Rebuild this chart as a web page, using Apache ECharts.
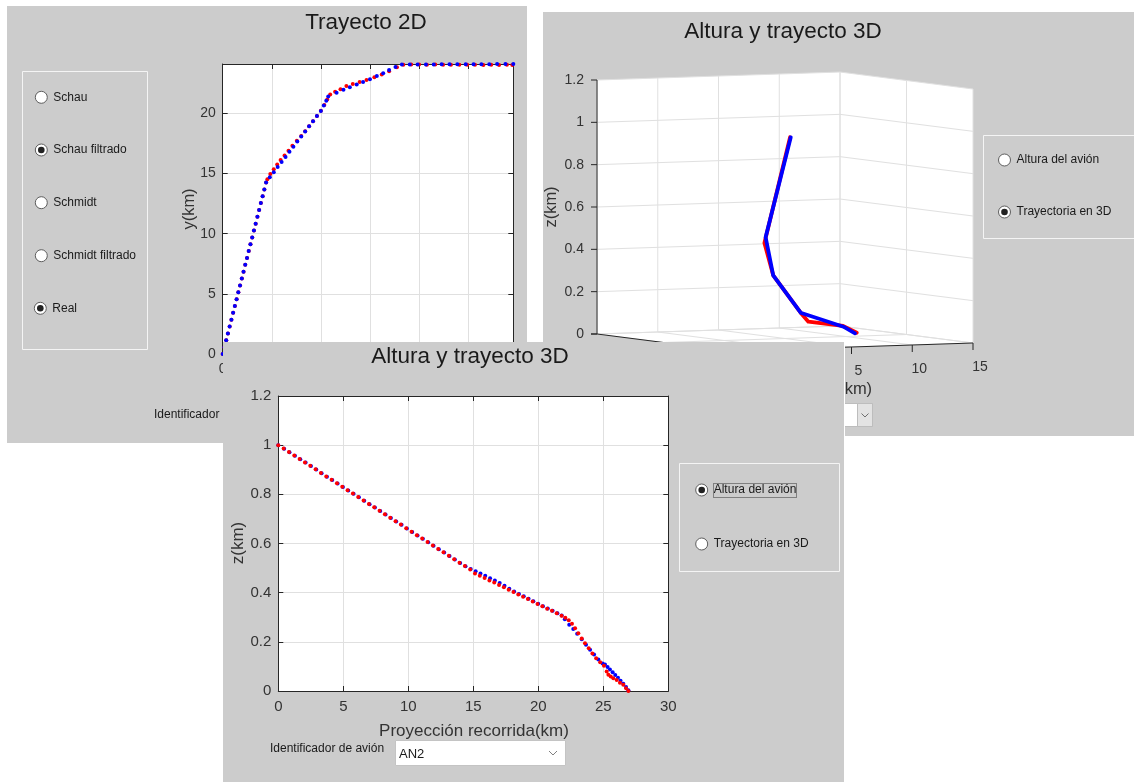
<!DOCTYPE html>
<html>
<head>
<meta charset="utf-8">
<script src="https://cdn.jsdelivr.net/npm/echarts/dist/echarts.min.js"></script>
<style>
  html, body { margin: 0; padding: 0; background: #ffffff; width: 1134px; height: 782px; overflow: hidden; }
  .win { position: absolute; }
  #w2d  { left: 7px;   top: 6px;   width: 520px; height: 437px; z-index: 1; }
  #w3d  { left: 543px; top: 12px;  width: 591px; height: 424px; z-index: 1; }
  #walt { left: 223px; top: 342px; width: 622px; height: 440px; z-index: 2; }
</style>
</head>
<body>
<div id="w2d" class="win"></div>
<div id="w3d" class="win"></div>
<div id="walt" class="win"></div>
<script>
// ---------- Trayecto 2D: x, y (km) ----------
const trajRealX = [0.000, 0.036, 0.072, 0.107, 0.142, 0.178, 0.213, 0.248, 0.284, 0.319, 0.354, 0.390, 0.425, 0.460, 0.496, 0.531, 0.566, 0.602, 0.637, 0.672, 0.708, 0.743, 0.778, 0.814, 0.849, 0.885,
  0.91, 0.97, 1.04, 1.11, 1.18, 1.26, 1.34, 1.42, 1.51, 1.60, 1.68, 1.76, 1.84, 1.92, 2.00, 2.07, 2.13, 2.19,
  2.29, 2.40, 2.52, 2.65, 2.79, 2.93, 3.09, 3.24, 3.39, 3.55, 3.68,
  3.84, 4.00, 4.16, 4.33, 4.49, 4.65, 4.82, 4.98, 5.14, 5.31, 5.47, 5.63, 5.79, 5.90];
const trajRealY = [0.00, 0.57, 1.14, 1.71, 2.28, 2.85, 3.42, 3.99, 4.56, 5.13, 5.70, 6.27, 6.84, 7.41, 7.98, 8.55, 9.12, 9.69, 10.26, 10.83, 11.40, 11.97, 12.54, 13.11, 13.68, 14.25,
  14.52, 14.95, 15.35, 15.75, 16.12, 16.50, 16.90, 17.30, 17.72, 18.12, 18.52, 18.93, 19.35, 19.78, 20.22, 20.70, 21.15, 21.56,
  21.80, 22.00, 22.28, 22.44, 22.61, 22.78, 23.00, 23.22, 23.50, 23.83, 24.03,
  24.05, 24.05, 24.04, 24.05, 24.04, 24.04, 24.03, 24.04, 24.03, 24.02, 24.03, 24.02, 24.03, 24.02];
const trajEstX = [0.000, 0.035, 0.071, 0.106, 0.141, 0.177, 0.212, 0.247, 0.283, 0.318, 0.353, 0.389, 0.424, 0.459, 0.495, 0.530, 0.565, 0.601, 0.636, 0.671, 0.707, 0.742, 0.777, 0.813, 0.848, 0.884,
  0.96, 1.04, 1.12, 1.20, 1.28, 1.36, 1.44, 1.52, 1.60, 1.68, 1.76, 1.84, 1.92, 2.00,
  2.06, 2.11, 2.15,
  2.32, 2.46, 2.59, 2.73, 2.86, 3.00, 3.14, 3.27, 3.39, 3.52, 3.65,
  3.81, 3.97, 4.14, 4.30, 4.46, 4.62, 4.78, 4.95, 5.11, 5.27, 5.43, 5.59, 5.76, 5.92];
const trajEstY = [0.00, 0.57, 1.14, 1.71, 2.28, 2.85, 3.42, 3.99, 4.56, 5.13, 5.70, 6.27, 6.84, 7.41, 7.98, 8.55, 9.12, 9.69, 10.26, 10.83, 11.40, 11.97, 12.54, 13.11, 13.68, 14.25,
  14.68, 15.10, 15.53, 15.95, 16.38, 16.80, 17.23, 17.65, 18.08, 18.50, 18.93, 19.35, 19.78, 20.20,
  20.65, 21.05, 21.39,
  21.72, 21.95, 22.17, 22.39, 22.61, 22.83, 23.11, 23.33, 23.61, 23.86, 24.05,
  24.05, 24.06, 24.06, 24.06, 24.07, 24.07, 24.07, 24.07, 24.07, 24.08, 24.08, 24.09, 24.09, 24.10];

// ---------- Altura del avión: proyección recorrida (km), z (km) ----------
const altRealDist = [0.00, 0.41, 0.82, 1.23, 1.64, 2.05, 2.46, 2.87, 3.28, 3.69, 4.10, 4.51, 4.92, 5.33, 5.74, 6.15, 6.56, 6.97, 7.38, 7.79, 8.20, 8.61, 9.02, 9.43, 9.84, 10.25, 10.66, 11.07, 11.48, 11.89, 12.30, 12.71, 13.12, 13.53, 13.94, 14.35, 14.76,
  15.13, 15.50, 15.87, 16.24, 16.61, 16.98, 17.35, 17.72, 18.09, 18.46, 18.83, 19.20, 19.57, 19.94, 20.31, 20.68, 21.05, 21.42, 21.79,
  22.08, 22.34, 22.59, 22.83, 23.08, 23.34, 23.59, 23.88, 24.16, 24.45, 24.76, 25.05,
  25.26, 25.39, 25.57, 25.77, 26.03, 26.28, 26.54, 26.75, 26.93];
const altRealZ = [1.000, 0.986, 0.972, 0.958, 0.944, 0.930, 0.916, 0.902, 0.887, 0.873, 0.859, 0.845, 0.831, 0.817, 0.803, 0.789, 0.775, 0.761, 0.747, 0.733, 0.719, 0.705, 0.691, 0.677, 0.662, 0.648, 0.634, 0.620, 0.606, 0.592, 0.578, 0.564, 0.550, 0.536, 0.522, 0.508, 0.494,
  0.478, 0.469, 0.460, 0.450, 0.441, 0.431, 0.422, 0.412, 0.403, 0.393, 0.383, 0.374, 0.364, 0.354, 0.345, 0.335, 0.326, 0.316, 0.306,
  0.298, 0.288, 0.274, 0.255, 0.235, 0.214, 0.194, 0.174, 0.153, 0.133, 0.117, 0.103,
  0.079, 0.066, 0.059, 0.052, 0.045, 0.034, 0.025, 0.011, 0.000];
const altEstDist = [0.00, 0.45, 0.86, 1.28, 1.69, 2.10, 2.51, 2.92, 3.33, 3.74, 4.15, 4.56, 4.97, 5.38, 5.79, 6.20, 6.61, 7.02, 7.43, 7.84, 8.25, 8.66, 9.07, 9.48, 9.89, 10.30, 10.71, 11.12, 11.53, 11.94, 12.35, 12.76, 13.17, 13.58, 13.99, 14.40, 14.80,
  15.18, 15.55, 15.92, 16.29, 16.66, 17.03, 17.40, 17.77, 18.14, 18.51, 18.88, 19.25, 19.62, 19.99, 20.36, 20.73, 21.10, 21.47, 21.80,
  22.04, 22.38, 22.69, 22.99, 23.34, 23.67, 23.98, 24.29, 24.62, 24.95,
  25.13, 25.33, 25.51, 25.72, 25.92, 26.13, 26.33, 26.54, 26.75, 26.93];
const altEstZ = [1.000, 0.985, 0.971, 0.957, 0.943, 0.929, 0.915, 0.901, 0.886, 0.872, 0.858, 0.844, 0.830, 0.816, 0.802, 0.788, 0.774, 0.760, 0.746, 0.732, 0.718, 0.704, 0.690, 0.676, 0.661, 0.647, 0.633, 0.619, 0.605, 0.591, 0.577, 0.563, 0.549, 0.535, 0.521, 0.507, 0.496,
  0.487, 0.478, 0.469, 0.459, 0.449, 0.439, 0.428, 0.416, 0.405, 0.395, 0.385, 0.375, 0.365, 0.355, 0.345, 0.336, 0.326, 0.316, 0.307,
  0.292, 0.269, 0.252, 0.233, 0.211, 0.188, 0.168, 0.148, 0.128, 0.112,
  0.108, 0.098, 0.087, 0.076, 0.065, 0.054, 0.042, 0.030, 0.016, 0.003];

// ---------- Trayectoria en 3D: x, y, z (km) ----------
const t3RealX = [0, 1.61, 2.99, 7.3, 8.62, 11.42, 12.66];
const t3RealY = [0.2, 13.8, 16.2, 23.7, 26.2, 26.0, 26.4];
const t3RealZ = [1.0, 0.47, 0.31, 0.11, 0.06, 0.035, 0];
const t3EstX = [0, 2.45, 2.99, 7.3, 11.07, 12.24];
const t3EstY = [0, 16.5, 16.2, 23.7, 24.6, 25.4];
const t3EstZ = [1.0, 0.49, 0.31, 0.11, 0.035, 0];

// ---------- tick values of the 3D box ----------
const ticks3dX = [-5, 0, 5, 10, 15];
const ticks3dY = [0, 20, 40];
const ticks3dZ = [0, 0.2, 0.4, 0.6, 0.8, 1, 1.2];

// ---------- shared styling ----------
const WIN = '#cccccc';
const AXIS = '#262626';
const GRIDC = '#e0e0e0';
const LABEL = '#333333';
const UI_TEXT = '#1a1a1a';
const FONT = '"Liberation Sans", Arial, Helvetica, sans-serif';
const RED = '#ff0000';
const BLUE = '#0000ff';

const pairs = (xs, ys) => xs.map((x, i) => [x, ys[i]]);

function txt(x, y, text, size, o) {
  o = o || {};
  const align = o.align || 'left', valign = o.valign || 'middle';
  return {
    type: 'text', x: x, y: y, rotation: o.rotation || 0, z: 20, silent: true,
    style: {
      text: text, font: 'normal ' + size + 'px ' + FONT, fill: o.color || UI_TEXT,
      align: align, verticalAlign: valign, textAlign: align, textVerticalAlign: valign
    }
  };
}
function radio(cx, cy, label, checked) {
  const els = [{ type: 'circle', z: 20, silent: true, shape: { cx: cx, cy: cy, r: 6 }, style: { fill: '#ffffff', stroke: '#5e5e5e', lineWidth: 1 } }];
  if (checked) els.push({ type: 'circle', z: 21, silent: true, shape: { cx: cx, cy: cy, r: 3.3 }, style: { fill: '#222222' } });
  els.push(txt(cx + 12, cy, label, 12));
  return els;
}
function panel(x, y, w, h) {
  return { type: 'rect', z: 19, silent: true, shape: { x: x, y: y, width: w, height: h }, style: { fill: 'none', stroke: '#f4f4f4', lineWidth: 1 } };
}
function boxedAxes(xr, yr, fs, showMax) {
  const mk = (pos, r, labels, split, margin) => ({
    type: 'value', position: pos, min: r[0], max: r[1], interval: r[2],
    axisLine: { show: true, onZero: false, lineStyle: { color: AXIS, width: 1 } },
    axisTick: { show: true, inside: true, length: 5, lineStyle: { color: AXIS, width: 1 } },
    axisLabel: { show: labels, color: LABEL, fontSize: fs, fontFamily: FONT, margin: margin, showMaxLabel: showMax, showMinLabel: true, hideOverlap: false },
    splitLine: { show: split, lineStyle: { color: GRIDC, width: 1 } }
  });
  return {
    xAxis: [mk('bottom', xr, true, true, 8), mk('top', xr, false, false, 8)],
    yAxis: [mk('left', yr, true, true, 7), mk('right', yr, false, false, 7)]
  };
}
function dots(data, color, z) {
  return { type: 'scatter', data: data, symbol: 'circle', symbolSize: 4, xAxisIndex: 0, yAxisIndex: 0,
           itemStyle: { color: color, opacity: 1 }, silent: true, z: z, clip: false, animation: false };
}

// ---------- Ventana: Trayecto 2D ----------
const ax2d = boxedAxes([0, 5.92, 1], [0, 24.1, 5], 14, false);
const chart2d = echarts.init(document.getElementById('w2d'), null, { renderer: 'canvas' });
chart2d.setOption({
  backgroundColor: WIN,
  animation: false,
  grid: { left: 215.7, top: 58, width: 290.6, height: 290, show: true, backgroundColor: '#ffffff', borderWidth: 0, outerBoundsMode: 'none' },
  xAxis: ax2d.xAxis,
  yAxis: ax2d.yAxis,
  series: [dots(pairs(trajRealX, trajRealY), RED, 2), dots(pairs(trajEstX, trajEstY), BLUE, 3)],
  graphic: { elements: [
    txt(359, 17, 'Trayecto 2D', 22.5, { align: 'center' }),
    txt(182, 203, 'y(km)', 16.5, { align: 'center', rotation: Math.PI / 2, color: '#333' }),
    panel(15.5, 65.5, 125, 278),
    ...radio(34.3, 91.3, 'Schau', false),
    ...radio(34.3, 144, 'Schau filtrado', true),
    ...radio(34.3, 196.7, 'Schmidt', false),
    ...radio(34.3, 249.7, 'Schmidt filtrado', false),
    ...radio(33.3, 302.3, 'Real', true),
    txt(147, 409, 'Identificador de avión', 12)
  ] }
});

// ---------- Ventana: Altura y trayecto 3D (vista 3D) ----------
const BOX = { X0: -5, X1: 15, Y0: 0, Y1: 40, Z1: 1.2 };
const VIEW_ORIGIN = [54, 322];               // (X0, Y1, 0) on the canvas
const VX = [243 / 20, -8 / 20];              // per km along x
const VY = [-133 / 40, -17 / 40];            // per km along y
const VZ = [0, -254 / 1.2];                  // per km along z
function proj(x, y, z) {
  return [VIEW_ORIGIN[0] + (x - BOX.X0) * VX[0] + (y - BOX.Y1) * VY[0] + z * VZ[0],
          VIEW_ORIGIN[1] + (x - BOX.X0) * VX[1] + (y - BOX.Y1) * VY[1] + z * VZ[1]];
}
const proj3 = (xs, ys, zs) => xs.map((x, i) => proj(x, ys[i], zs[i]));

function renderBox(params, api) {
  const P = (x, y, z) => api.coord(proj(x, y, z));
  const out = [];
  const seg = (a, b, color) => out.push({ type: 'line', shape: { x1: a[0], y1: a[1], x2: b[0], y2: b[1] }, style: { stroke: color, lineWidth: 1 } });
  const label = (x, y, s, align, size) => out.push({ type: 'text', x: x, y: y,
    style: { text: s, font: 'normal ' + (size || 14) + 'px ' + FONT, fill: LABEL, align: align, verticalAlign: 'middle', textAlign: align, textVerticalAlign: 'middle' } });
  const { X0, X1, Y0, Y1, Z1 } = BOX;
  out.push({ type: 'polygon', shape: { points: [P(X0, Y1, 0), P(X0, Y1, Z1), P(X1, Y1, Z1), P(X1, Y0, Z1), P(X1, Y0, 0), P(X0, Y0, 0)] }, style: { fill: '#ffffff' } });
  ticks3dZ.forEach(z => { seg(P(X0, Y1, z), P(X1, Y1, z), GRIDC); seg(P(X1, Y1, z), P(X1, Y0, z), GRIDC); });
  ticks3dX.forEach(x => { seg(P(x, Y1, 0), P(x, Y1, Z1), GRIDC); seg(P(x, Y0, 0), P(x, Y1, 0), GRIDC); });
  ticks3dY.forEach(y => { seg(P(X1, y, 0), P(X1, y, Z1), GRIDC); seg(P(X0, y, 0), P(X1, y, 0), GRIDC); });
  seg(P(X0, Y1, 0), P(X0, Y1, Z1), AXIS);
  seg(P(X0, Y0, 0), P(X1, Y0, 0), AXIS);
  seg(P(X0, Y1, 0), P(X0, Y0, 0), AXIS);
  ticks3dZ.forEach(z => { const p = P(X0, Y1, z); seg([p[0] - 6, p[1]], p, AXIS); label(p[0] - 13, p[1], String(z), 'right'); });
  ticks3dX.forEach(x => { const p = P(x, Y0, 0); seg(p, [p[0], p[1] + 7], AXIS); label(p[0] + 7, p[1] + 24, String(x), 'center'); });
  ticks3dY.forEach(y => { const p = P(X0, y, 0); seg([p[0] - 6, p[1]], p, AXIS); label(p[0] - 12, p[1] + 14, String(y), 'right'); });
  const m = P((X0 + X1) / 2, Y0, 0);
  label(m[0], m[1] + 42, 'x(km)', 'center', 16.5);
  return { type: 'group', children: out };
}

const chart3d = echarts.init(document.getElementById('w3d'), null, { renderer: 'canvas' });
chart3d.setOption({
  backgroundColor: WIN,
  animation: false,
  grid: { left: 0, top: 0, right: 0, bottom: 0, outerBoundsMode: 'none' },
  xAxis: { type: 'value', min: 0, max: 591, show: false },
  yAxis: { type: 'value', min: 0, max: 424, inverse: true, show: false },
  series: [
    { type: 'custom', data: [[0, 0]], renderItem: renderBox, silent: true, z: 1, animation: false },
    { type: 'line', data: proj3(t3RealX, t3RealY, t3RealZ), symbol: 'none', lineStyle: { color: RED, width: 3.8, cap: 'round', join: 'round' }, silent: true, z: 2, clip: false },
    { type: 'line', data: proj3(t3EstX, t3EstY, t3EstZ), symbol: 'none', lineStyle: { color: BLUE, width: 3.8, cap: 'round', join: 'round' }, silent: true, z: 3, clip: false }
  ],
  graphic: { elements: [
    txt(240, 20, 'Altura y trayecto 3D', 22.5, { align: 'center' }),
    txt(8, 195, 'z(km)', 16.5, { align: 'center', rotation: Math.PI / 2, color: '#333' }),
    panel(440.5, 123.5, 170, 103),
    ...radio(461.5, 148, 'Altura del avión', false),
    ...radio(461.5, 200, 'Trayectoria en 3D', true),
    { type: 'rect', z: 19, silent: true, shape: { x: 250.5, y: 391.5, width: 79, height: 23 }, style: { fill: '#ffffff', stroke: '#bdbdbd', lineWidth: 1 } },
    { type: 'rect', z: 20, silent: true, shape: { x: 314.5, y: 391.5, width: 15, height: 23 }, style: { fill: '#e3e3e3', stroke: '#bdbdbd', lineWidth: 1 } },
    { type: 'polyline', z: 21, silent: true, shape: { points: [[318.5, 401.5], [322, 405], [325.5, 401.5]] }, style: { stroke: '#707070', lineWidth: 1, fill: null } }
  ] }
});

// ---------- Ventana: Altura del avión ----------
const axAlt = boxedAxes([0, 30, 5], [0, 1.2, 0.2], 15, true);
const chartAlt = echarts.init(document.getElementById('walt'), null, { renderer: 'canvas' });
chartAlt.setOption({
  backgroundColor: WIN,
  animation: false,
  grid: { left: 55.3, top: 54, width: 390, height: 295, show: true, backgroundColor: '#ffffff', borderWidth: 0, outerBoundsMode: 'none' },
  xAxis: axAlt.xAxis,
  yAxis: axAlt.yAxis,
  series: [dots(pairs(altEstDist, altEstZ), BLUE, 2), dots(pairs(altRealDist, altRealZ), RED, 3)],
  graphic: { elements: [
    txt(247, 15, 'Altura y trayecto 3D', 22.5, { align: 'center' }),
    txt(15, 201, 'z(km)', 17, { align: 'center', rotation: Math.PI / 2, color: '#333' }),
    txt(251, 389, 'Proyección recorrida(km)', 17, { align: 'center', color: '#333' }),
    panel(456.5, 121.5, 160, 108),
    ...radio(478.7, 148, 'Altura del avión', true),
    ...radio(478.7, 202, 'Trayectoria en 3D', false),
    { type: 'rect', z: 22, silent: true, shape: { x: 490.5, y: 141.5, width: 83, height: 14 }, style: { fill: 'none', stroke: '#333333', lineWidth: 1, lineDash: [1, 1] } },
    txt(47, 407, 'Identificador de avión', 12),
    { type: 'rect', z: 19, silent: true, shape: { x: 172.5, y: 398.5, width: 170, height: 25 }, style: { fill: '#ffffff', stroke: '#c4c4c4', lineWidth: 1 } },
    { type: 'polyline', z: 21, silent: true, shape: { points: [[326, 409], [330, 413], [334, 409]] }, style: { stroke: '#808080', lineWidth: 1, fill: null } },
    txt(176, 412, 'AN2', 13),
    { type: 'line', z: 23, silent: true, shape: { x1: 621.5, y1: 0, x2: 621.5, y2: 440 }, style: { stroke: '#ffffff', lineWidth: 1 } }
  ] }
});
</script>
</body>
</html>
